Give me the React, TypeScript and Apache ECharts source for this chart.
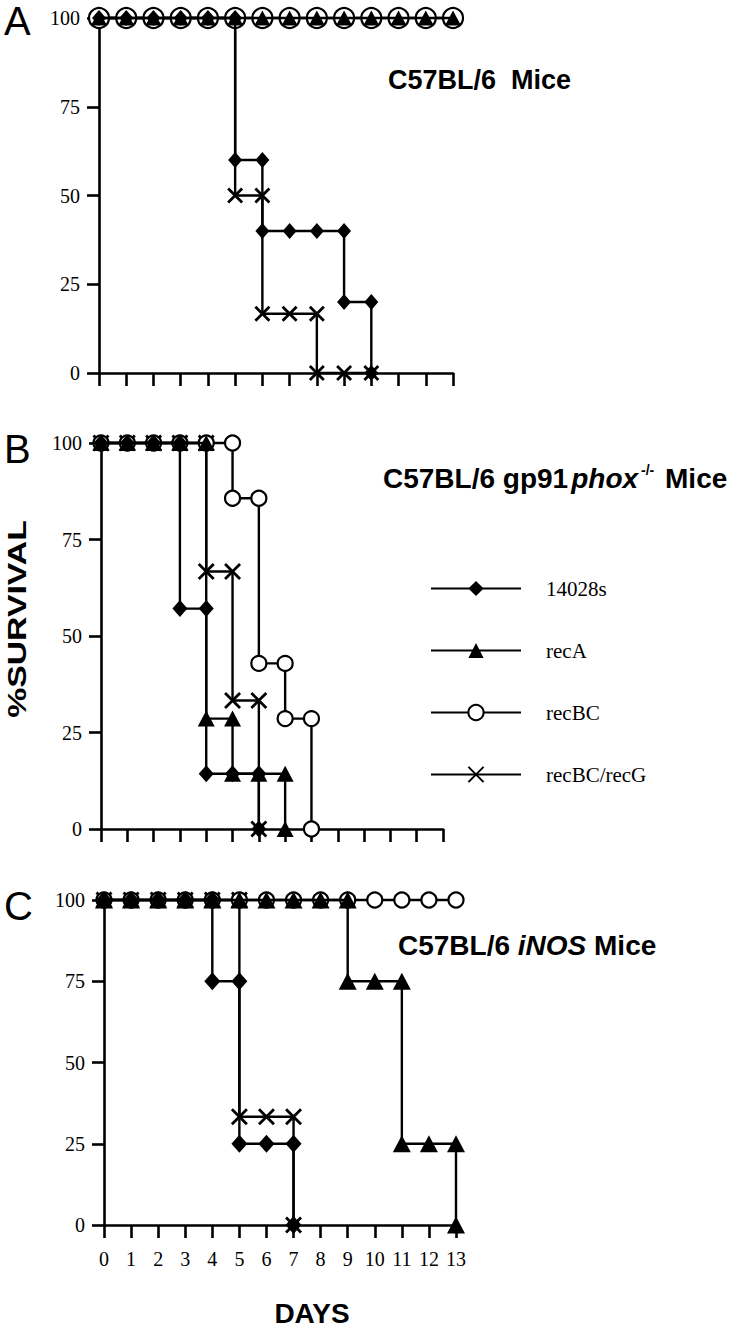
import React, { useEffect, useRef } from "react";
import * as echarts from "echarts";

// ---------- data ----------
const xTicks = [0, 1, 2, 3, 4, 5, 6, 7, 8, 9, 10, 11, 12, 13];
const yTicks = [0, 25, 50, 75, 100];
const seriesNames = ["14028s", "recA", "recBC", "recBC/recG"];

// Panel A: C57BL/6 Mice
const A_14028s = [[0, 100], [1, 100], [2, 100], [3, 100], [4, 100], [5, 100], [5, 60], [6, 60], [6, 40], [7, 40], [8, 40], [9, 40], [9, 20], [10, 20], [10, 0]];
const A_recA = [[0, 100], [1, 100], [2, 100], [3, 100], [4, 100], [5, 100], [6, 100], [7, 100], [8, 100], [9, 100], [10, 100], [11, 100], [12, 100], [13, 100]];
const A_recBC = [[0, 100], [1, 100], [2, 100], [3, 100], [4, 100], [5, 100], [6, 100], [7, 100], [8, 100], [9, 100], [10, 100], [11, 100], [12, 100], [13, 100]];
const A_recBCrecG = [[0, 100], [1, 100], [2, 100], [3, 100], [4, 100], [5, 100], [5, 50], [6, 50], [6, 16.7], [7, 16.7], [8, 16.7], [8, 0], [9, 0], [10, 0]];

// Panel B: C57BL/6 gp91phox-/- Mice
const B_14028s = [[0, 100], [1, 100], [2, 100], [3, 100], [3, 57.1], [4, 57.1], [4, 14.3], [5, 14.3], [6, 14.3], [6, 0]];
const B_recA = [[0, 100], [1, 100], [2, 100], [3, 100], [4, 100], [4, 28.6], [5, 28.6], [5, 14.3], [6, 14.3], [7, 14.3], [7, 0]];
const B_recBC = [[0, 100], [1, 100], [2, 100], [3, 100], [4, 100], [5, 100], [5, 85.7], [6, 85.7], [6, 42.9], [7, 42.9], [7, 28.6], [8, 28.6], [8, 0]];
const B_recBCrecG = [[0, 100], [1, 100], [2, 100], [3, 100], [4, 100], [4, 66.7], [5, 66.7], [5, 33.3], [6, 33.3], [6, 0]];

// Panel C: C57BL/6 iNOS Mice
const C_14028s = [[0, 100], [1, 100], [2, 100], [3, 100], [4, 100], [4, 75], [5, 75], [5, 25], [6, 25], [7, 25], [7, 0]];
const C_recA = [[0, 100], [1, 100], [2, 100], [3, 100], [4, 100], [5, 100], [6, 100], [7, 100], [8, 100], [9, 100], [9, 75], [10, 75], [11, 75], [11, 25], [12, 25], [13, 25], [13, 0]];
const C_recBC = [[0, 100], [1, 100], [2, 100], [3, 100], [4, 100], [5, 100], [6, 100], [7, 100], [8, 100], [9, 100], [10, 100], [11, 100], [12, 100], [13, 100]];
const C_recBCrecG = [[0, 100], [1, 100], [2, 100], [3, 100], [4, 100], [5, 100], [5, 33.3], [6, 33.3], [7, 33.3], [7, 0]];

// ---------- styling ----------
const SANS = "'Liberation Sans', Arial, Helvetica, sans-serif";
const SERIF = "'Liberation Serif', 'Times New Roman', Times, serif";
const CROSS = "path://M0,0L10,10M0,10L10,0";

const grids = [
  { left: 99, top: 18, width: 354, height: 355 },
  { left: 101, top: 443, width: 342, height: 386 },
  { left: 104, top: 900, width: 352, height: 325 },
];

const markerSizes = [
  { diamond: [14, 16], triangle: [16, 15], circle: 20, cross: 14 },
  { diamond: [15, 17], triangle: [17, 16], circle: 15, cross: 15 },
  { diamond: [16, 18], triangle: [18, 17], circle: 15, cross: 15 },
];

function mkSeries(name: string, data: number[][], panel: number, kind: string) {
  const sz: any = (markerSizes[panel] as any)[kind];
  let symbol = "diamond";
  let itemStyle: any = { color: "#000", borderWidth: 0 };
  let z = 4;
  if (kind === "triangle") { symbol = "triangle"; z = 5; }
  if (kind === "circle") { symbol = "circle"; itemStyle = { color: "#fff", borderColor: "#000", borderWidth: 2.2 }; z = 3; }
  if (kind === "cross") { symbol = CROSS; itemStyle = { color: "#000", borderColor: "#000", borderWidth: 2.8 }; z = 2; }
  return {
    type: "line",
    name,
    xAxisIndex: panel,
    yAxisIndex: panel,
    data,
    symbol,
    symbolSize: sz,
    symbolKeepAspect: false,
    showSymbol: true,
    showAllSymbol: true,
    clip: false,
    z,
    silent: true,
    lineStyle: { color: "#000", width: 2.4 },
    itemStyle,
    emphasis: { disabled: true },
  };
}

export default function App() {
  const ref = useRef<HTMLDivElement>(null);
  useEffect(() => {
    document.body.style.margin = "0";
    if (!ref.current) return;
    const chart = echarts.init(ref.current, null, { renderer: "svg" });

    const xAxes = grids.map((_, i) => ({
      type: "value",
      gridIndex: i,
      min: xTicks[0],
      max: xTicks[xTicks.length - 1],
      interval: 1,
      axisLine: { show: true, onZero: false, lineStyle: { color: "#000", width: 2.6 } },
      axisTick: { show: true, inside: false, length: 13, lineStyle: { color: "#000", width: 2.6 } },
      axisLabel: {
        show: i === 2,
        color: "#000",
        fontFamily: SERIF,
        fontSize: 20,
        margin: 24,
      },
      splitLine: { show: false },
    }));

    const yAxes = grids.map((_, i) => ({
      type: "value",
      gridIndex: i,
      min: yTicks[0],
      max: yTicks[yTicks.length - 1],
      interval: 25,
      axisLine: { show: true, lineStyle: { color: "#000", width: 2.6 } },
      axisTick: { show: true, inside: false, length: 12, lineStyle: { color: "#000", width: 2.6 } },
      axisLabel: { color: "#000", fontFamily: SERIF, fontSize: 20, margin: 19 },
      splitLine: { show: false },
    }));

    const series = [
      // panel A
      mkSeries(seriesNames[3], A_recBCrecG, 0, "cross"),
      mkSeries(seriesNames[2], A_recBC, 0, "circle"),
      mkSeries(seriesNames[0], A_14028s, 0, "diamond"),
      mkSeries(seriesNames[1], A_recA, 0, "triangle"),
      // panel B
      mkSeries(seriesNames[3], B_recBCrecG, 1, "cross"),
      mkSeries(seriesNames[2], B_recBC, 1, "circle"),
      mkSeries(seriesNames[0], B_14028s, 1, "diamond"),
      mkSeries(seriesNames[1], B_recA, 1, "triangle"),
      // panel C
      mkSeries(seriesNames[3], C_recBCrecG, 2, "cross"),
      mkSeries(seriesNames[2], C_recBC, 2, "circle"),
      mkSeries(seriesNames[0], C_14028s, 2, "diamond"),
      mkSeries(seriesNames[1], C_recA, 2, "triangle"),
    ];

    const titleFont = { fontFamily: SANS, fontWeight: "bold", fontSize: 28, fill: "#000" };

    chart.setOption({
      animation: false,
      backgroundColor: "#fff",
      grid: grids.map((g) => ({ ...g, containLabel: false })),
      xAxis: xAxes,
      yAxis: yAxes,
      legend: {
        data: seriesNames,
        orient: "vertical",
        left: 425,
        top: 573,
        itemWidth: 90,
        itemHeight: 19,
        itemGap: 41,
        selectedMode: false,
        textStyle: { color: "#000", fontFamily: SERIF, fontSize: 21, padding: [0, 0, 0, 20] },
      },
      series,
      graphic: [
        { type: "text", x: 4, y: 21, style: { text: "A", fontFamily: SANS, fontSize: 40, fill: "#000", textVerticalAlign: "middle" } },
        { type: "text", x: 4, y: 449, style: { text: "B", fontFamily: SANS, fontSize: 40, fill: "#000", textVerticalAlign: "middle" } },
        { type: "text", x: 4, y: 906, style: { text: "C", fontFamily: SANS, fontSize: 40, fill: "#000", textVerticalAlign: "middle" } },
        {
          type: "text", x: 388, y: 80,
          style: { text: "C57BL/6  Mice", ...titleFont, fontSize: 27, textVerticalAlign: "middle" },
        },
        {
          type: "text", x: 383, y: 478,
          style: {
            text: "{a|C57BL/6 gp91}{b|phox}{c|-/-}{a| Mice}",
            textVerticalAlign: "middle",
            rich: {
              a: { fontFamily: SANS, fontWeight: "bold", fontSize: 28, lineHeight: 30, color: "#000" },
              b: { fontFamily: SANS, fontWeight: "bold", fontStyle: "italic", fontSize: 28, lineHeight: 30, color: "#000", padding: [0, 0, 0, 3] },
              c: { fontFamily: SANS, fontWeight: "bold", fontSize: 14, lineHeight: 14, color: "#000", verticalAlign: "top", padding: [0, 3, 0, 3] },
            },
          },
        },
        {
          type: "text", x: 398, y: 945,
          style: {
            text: "{a|C57BL/6 }{b|iNOS}{a| Mice}",
            textVerticalAlign: "middle",
            rich: {
              a: { fontFamily: SANS, fontWeight: "bold", fontSize: 28, lineHeight: 30, color: "#000" },
              b: { fontFamily: SANS, fontWeight: "bold", fontStyle: "italic", fontSize: 28, lineHeight: 30, color: "#000" },
            },
          },
        },
        {
          type: "text", x: 17, y: 619, rotation: Math.PI / 2, scaleX: 1.3,
          style: { text: "%SURVIVAL", fontFamily: SANS, fontWeight: "bold", fontSize: 26, fill: "#000", textAlign: "center", textVerticalAlign: "middle" },
        },
        {
          type: "text", x: 312, y: 1313,
          style: { text: "DAYS", fontFamily: SANS, fontWeight: "bold", fontSize: 28, fill: "#000", textAlign: "center", textVerticalAlign: "middle" },
        },
      ],
    });
    return () => chart.dispose();
  }, []);
  return <div ref={ref} style={{ width: 743, height: 1327 }} />;
}
